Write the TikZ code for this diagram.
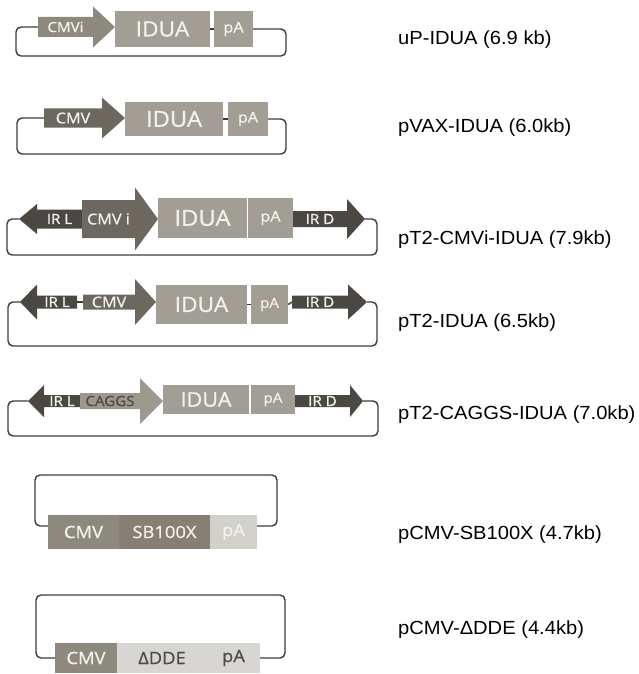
\documentclass[tikz,border=0pt]{standalone}
\usepackage{fontspec}
\setmainfont[FakeStretch=1.06]{Liberation Sans}
\newfontfamily\boxfont[FakeBold=0.8, FakeStretch=1.08]{Open Sans}
\usepackage{tikz}

\definecolor{iduagray}{HTML}{A29E95}
\definecolor{promlight}{HTML}{8E897F}
\definecolor{promdark}{HTML}{6C685F}
\definecolor{irgray}{HTML}{4B4843}
\definecolor{cagggray}{HTML}{9D998F}
\definecolor{sbgray}{HTML}{867F73}
\definecolor{palegray}{HTML}{D2D0CB}
\definecolor{ddegray}{HTML}{D7D6D2}
\definecolor{txtlight}{HTML}{F2F1EC}
\definecolor{txtdark}{HTML}{4E4B45}
\definecolor{loopgray}{HTML}{3C3C3C}

\newcommand{\fsz}[1]{\fontsize{#1}{#1}\selectfont}

% forward element: name, tail x, head base x, tip x, mid y, body half, head half, colour, text
\newcommand{\fwdgene}[9]{%
  \fill[#8] (#2,#5-#6) -- (#3,#5-#6) -- (#3,#5-#7) -- (#4,#5) -- (#3,#5+#7) -- (#3,#5+#6) -- (#2,#5+#6) -- cycle;
  \coordinate (#1-tail) at (#2,#5);
  \coordinate (#1-tip) at (#4,#5);
  \node[lab] (#1) at ({(#2+#3)/2},#5) {#9};
}
% reverse element: name, tip x, head base x, tail x, mid y, body half, head half, colour, text
\newcommand{\revgene}[9]{%
  \fill[#8] (#4,#5-#6) -- (#3,#5-#6) -- (#3,#5-#7) -- (#2,#5) -- (#3,#5+#7) -- (#3,#5+#6) -- (#4,#5+#6) -- cycle;
  \coordinate (#1-tail) at (#4,#5);
  \coordinate (#1-tip) at (#2,#5);
  \node[lab] (#1) at ({(#3+#4)/2},#5) {#9};
}

\begin{document}
\begin{tikzpicture}[x=1pt, y=-1pt,
    plasmid/.style={draw=loopgray, line width=1.4pt, rounded corners=5pt},
    gbox/.style={inner sep=0pt, text=txtlight},
    lab/.style={inner sep=0pt, text=txtlight, font=\boxfont},
    plabel/.style={anchor=west, inner sep=0pt, font=\fsz{19}}
  ]
  \useasboundingbox (0,0) rectangle (639,674);

  % uP-IDUA
  \fwdgene{r1cmv}{38}{93}{115}{27}{10}{20.5}{promlight}{\fsz{14}CMVi}
  \node[gbox, fill=iduagray, minimum width=95pt, minimum height=36pt, font=\boxfont\fsz{21}] (r1idua) at (162.5,29) {IDUA};
  \node[gbox, fill=iduagray, minimum width=39pt, minimum height=36pt, font=\boxfont\fsz{15}] (r1pa) at (233.5,29) {pA};
  \draw[plasmid] (r1idua) -- (r1pa);
  \draw[plasmid] (r1pa.east) -| (286,56) -- (16,56) |- (r1cmv-tail);
  \node[plabel] (n1) at (398,40) {uP-IDUA (6.9 kb)};

  % pVAX-IDUA
  \fwdgene{r2cmv}{44}{102}{125}{118}{9.5}{20.5}{promdark}{\fsz{15}CMV}
  \node[gbox, fill=iduagray, minimum width=98pt, minimum height=34pt, font=\boxfont\fsz{22}] (r2idua) at (174,119) {IDUA};
  \node[gbox, fill=iduagray, minimum width=40pt, minimum height=34pt, font=\boxfont\fsz{15}] (r2pa) at (248,119) {pA};
  \draw[plasmid] (r2idua) -- (r2pa);
  \draw[plasmid] (r2pa.east) -| (286,154) -- (17,154) |- (r2cmv-tail);
  \node[plabel] (n2) at (398,128) {pVAX-IDUA (6.0kb)};

  % pT2-CMVi-IDUA
  \revgene{r3irl}{19}{37}{82}{219}{9.5}{15}{irgray}{\fsz{14}IR L}
  \fwdgene{r3cmv}{82}{135}{158}{219}{19}{31.5}{promdark}{\fsz{15}CMV i}
  \node[gbox, fill=iduagray, minimum width=89pt, minimum height=40pt, font=\boxfont\fsz{22}] (r3idua) at (202.5,218) {IDUA};
  \node[gbox, fill=iduagray, minimum width=45pt, minimum height=40pt, font=\boxfont\fsz{15}] (r3pa) at (270.5,218) {pA};
  \fwdgene{r3ird}{293}{347}{365}{219}{8}{20}{irgray}{\fsz{14}IR D}
  \draw[plasmid] (r3ird-tip) -| (377,255) -- (7,255) |- (r3irl-tip);
  \node[plabel] (n3) at (398,240) {pT2-CMVi-IDUA (7.9kb)};

  % pT2-IDUA
  \revgene{r4irl}{20}{37}{77}{302}{6.5}{17.5}{irgray}{\fsz{14}IR L}
  \fwdgene{r4cmv}{83}{135}{156}{302}{7.5}{23}{promdark}{\fsz{15}CMV}
  \node[gbox, fill=iduagray, minimum width=91pt, minimum height=39pt, font=\boxfont\fsz{21}] (r4idua) at (201.5,304.5) {IDUA};
  \node[gbox, fill=iduagray, minimum width=37pt, minimum height=39pt, font=\boxfont\fsz{14}] (r4pa) at (269.5,304.5) {pA};
  \fwdgene{r4ird}{292}{348}{367}{302}{6.5}{17.5}{irgray}{\fsz{14}IR D}
  \draw[plasmid] (r4irl-tail) -- (r4cmv-tail);
  \draw[plasmid] (r4idua) -- (r4pa);
  \draw[plasmid] (r4pa.east) -- (r4ird-tail);
  \draw[plasmid] (r4ird-tip) -| (377,346) -- (8,346) |- (r4irl-tip);
  \node[plabel] (n4) at (398,323) {pT2-IDUA (6.5kb)};

  % pT2-CAGGS-IDUA
  \revgene{r5irl}{28}{44}{80}{401}{6}{16}{irgray}{\fsz{14}IR L}
  \fwdgene{r5cag}{80}{140}{163}{401}{8}{23}{cagggray}{\fsz{14}\color{txtdark}CAGGS}
  \node[gbox, fill=iduagray, minimum width=86pt, minimum height=29pt, font=\boxfont\fsz{20}] (r5idua) at (206,399.5) {IDUA};
  \node[gbox, fill=iduagray, minimum width=44pt, minimum height=29pt, font=\boxfont\fsz{14}] (r5pa) at (273,399.5) {pA};
  \fwdgene{r5ird}{295}{350}{363}{401}{6}{16}{irgray}{\fsz{14}IR D}
  \draw[plasmid] (r5ird-tip) -| (378,436) -- (8,436) |- (r5irl-tip);
  \node[plabel] (n5) at (398,415) {pT2-CAGGS-IDUA (7.0kb)};

  % pCMV-SB100X
  \node[gbox, fill=promlight, minimum width=71pt, minimum height=34pt, font=\boxfont\fsz{17}] (r6cmv) at (83.5,532) {CMV};
  \node[gbox, fill=sbgray, minimum width=91pt, minimum height=34pt, font=\boxfont\fsz{17}] (r6sb) at (164.5,532) {SB100X};
  \node[gbox, fill=palegray, minimum width=47pt, minimum height=34pt, font=\boxfont\fsz{17}] (r6pa) at (233.5,532) {pA};
  \draw[plasmid] ([yshift=6pt]r6cmv.west) -| (35,475) -- (277,475) |- ([yshift=6pt]r6pa.east);
  \node[plabel] (n6) at (398,535) {pCMV-SB100X (4.7kb)};

  % pCMV-DDE
  \node[gbox, fill=promlight, minimum width=62pt, minimum height=30pt, font=\boxfont\fsz{17}] (r7cmv) at (86,658) {CMV};
  \node[gbox, fill=ddegray, minimum width=90pt, minimum height=30pt, text=txtdark, font=\boxfont\fsz{17}] (r7dde) at (162,658) {ΔDDE};
  \node[gbox, fill=ddegray, minimum width=53pt, minimum height=30pt, text=txtdark, font=\boxfont\fsz{17}] (r7pa) at (233.5,658) {pA};
  \draw[plasmid] (r7cmv.west) -| (36,595) -- (285,595) |- (r7pa.east);
  \node[plabel] (n7) at (398,630) {pCMV-ΔDDE (4.4kb)};
\end{tikzpicture}
\end{document}
